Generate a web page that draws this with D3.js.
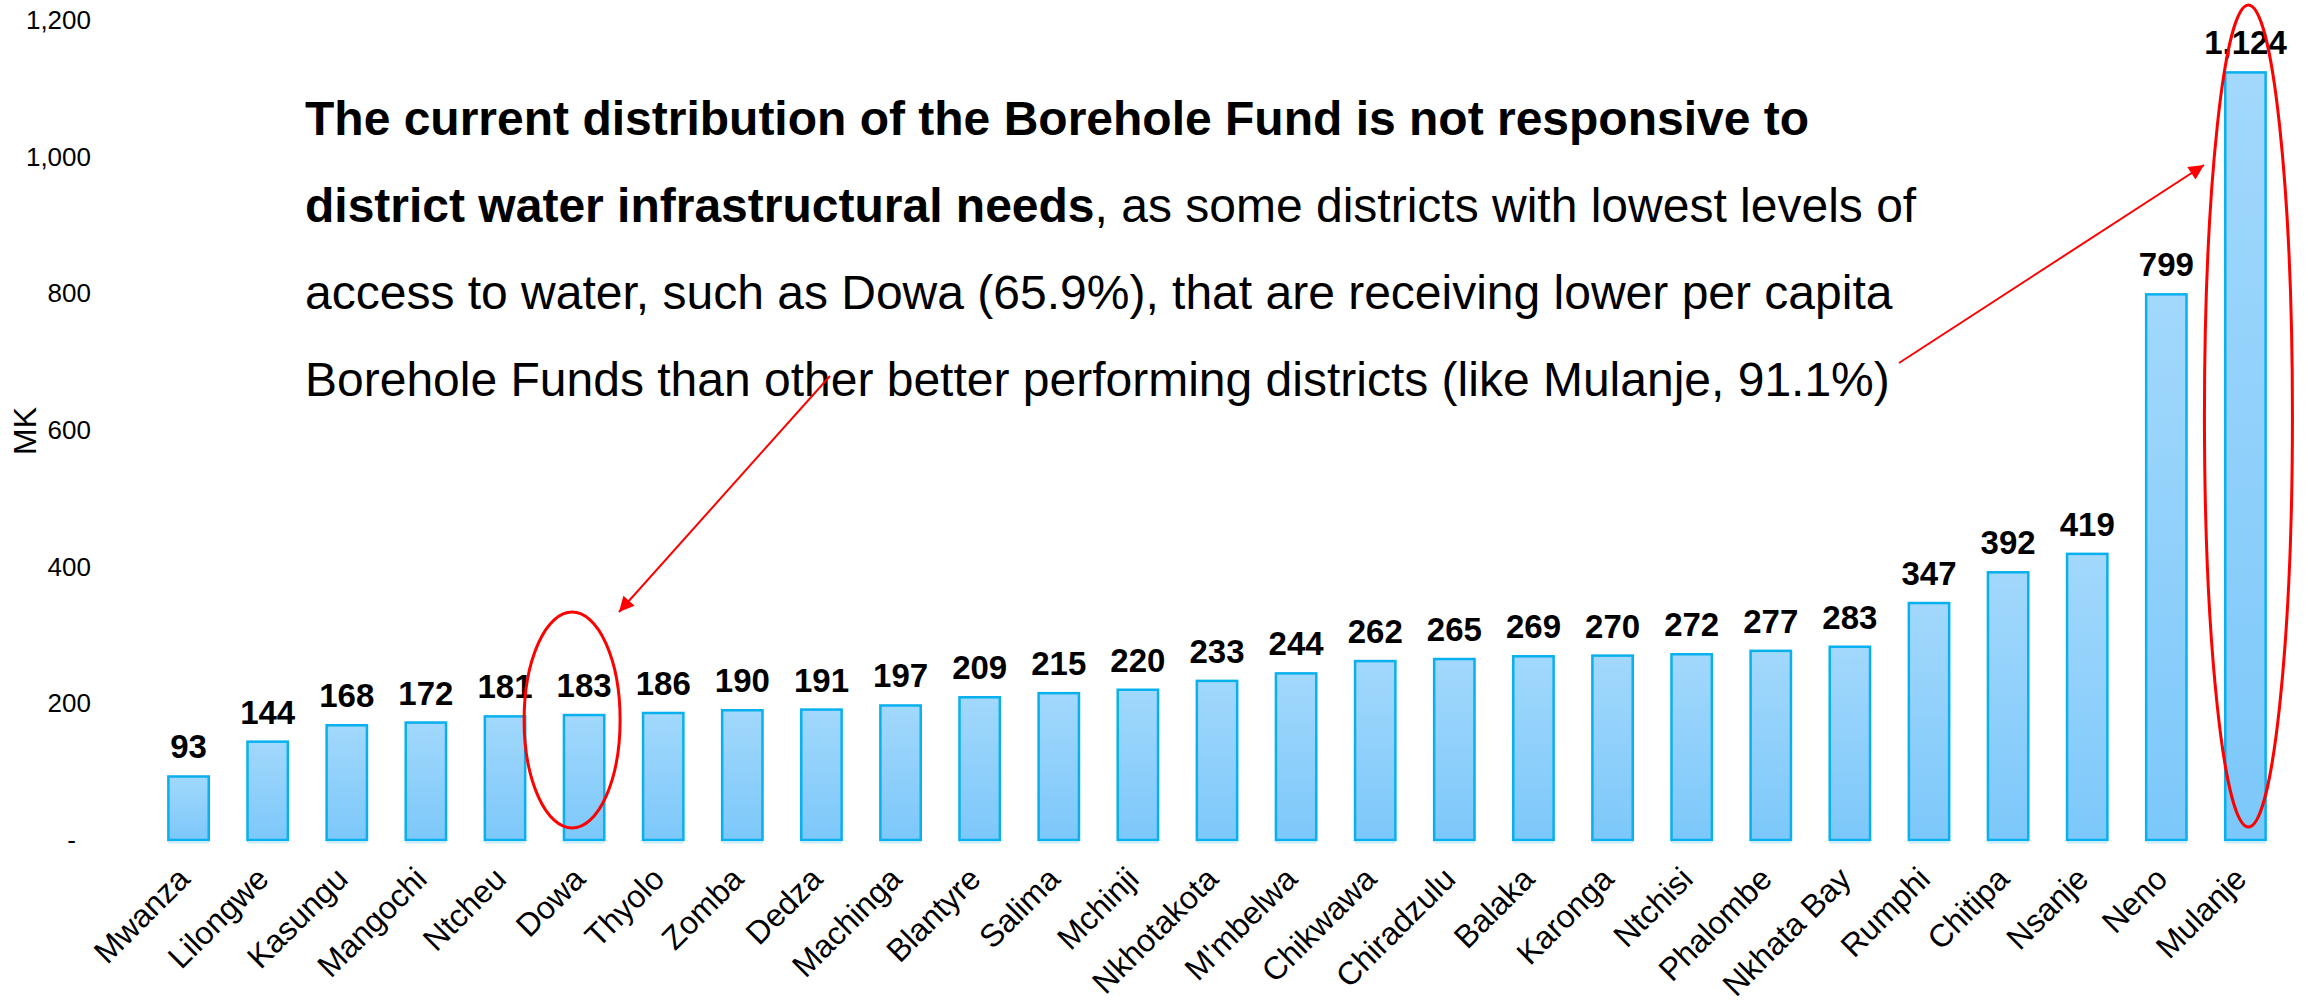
<!DOCTYPE html>
<html>
<head>
<meta charset="utf-8">
<script src="https://cdn.jsdelivr.net/npm/d3@7"></script>
<style>
  body { margin: 0; background: #fff; }
  svg { display: block; font-family: Arial, "Liberation Sans", sans-serif; }
</style>
</head>
<body>
<div id="chart"></div>
<script>
const districts = ["Mwanza", "Lilongwe", "Kasungu", "Mangochi", "Ntcheu", "Dowa", "Thyolo", "Zomba",
  "Dedza", "Machinga", "Blantyre", "Salima", "Mchinji", "Nkhotakota", "M'mbelwa", "Chikwawa",
  "Chiradzulu", "Balaka", "Karonga", "Ntchisi", "Phalombe", "Nkhata Bay", "Rumphi", "Chitipa",
  "Nsanje", "Neno", "Mulanje"];
const funds = [93, 144, 168, 172, 181, 183, 186, 190, 191, 197, 209, 215, 220, 233, 244, 262,
  265, 269, 270, 272, 277, 283, 347, 392, 419, 799, 1124];
const yTicks = [0, 200, 400, 600, 800, 1000, 1200];

const noteLines = [
  [["The current distribution of the Borehole Fund is not responsive to", true]],
  [["district water infrastructural needs", true], [", as some districts with lowest levels of", false]],
  [["access to water, such as Dowa (65.9%), that are receiving lower per capita", false]],
  [["Borehole Funds than other better performing districts (like Mulanje, 91.1%)", false]]
];

const data = districts.map((d, i) => ({ district: d, value: funds[i] }));

const width = 2308, height = 1003;
const svg = d3.select("#chart").append("svg")
  .attr("width", width)
  .attr("height", height);

const x = d3.scaleBand()
  .domain(districts)
  .range([149, 2285])
  .paddingInner(0.49)
  .paddingOuter(0.245);

const y = d3.scaleLinear()
  .domain([0, 1200])
  .range([840, 20.5]);

// bar gradient
const defs = svg.append("defs");
const grad = defs.append("linearGradient")
  .attr("id", "barFill")
  .attr("x1", 0).attr("y1", 0).attr("x2", 0).attr("y2", 1);
grad.append("stop").attr("offset", "0%").attr("stop-color", "#a2d8fc");
grad.append("stop").attr("offset", "100%").attr("stop-color", "#7cc8fa");

defs.append("marker")
  .attr("id", "arrowHead")
  .attr("viewBox", "0 0 10 10")
  .attr("refX", 10).attr("refY", 5)
  .attr("markerWidth", 22).attr("markerHeight", 15)
  .attr("markerUnits", "userSpaceOnUse")
  .attr("orient", "auto")
  .append("path")
  .attr("d", "M0,0 L10,5 L0,10 Z")
  .attr("fill", "#ff0000");

// y axis
const yAxis = svg.append("g")
  .attr("transform", "translate(100,0)")
  .call(d3.axisLeft(y).tickValues(yTicks).tickSize(0).tickPadding(9)
    .tickFormat(d => d === 0 ? "-" : d3.format(",")(d)));
yAxis.select(".domain").remove();
yAxis.selectAll("text")
  .style("font-size", "26px")
  .style("font-family", "Arial, 'Liberation Sans', sans-serif")
  .attr("fill", "#000")
  .attr("dx", d => d === 0 ? -15 : 0);

svg.append("text")
  .attr("transform", "translate(25,431) rotate(-90)")
  .attr("text-anchor", "middle")
  .attr("dy", "0.35em")
  .style("font-size", "32px")
  .text("MK");

// bars
const bars = svg.selectAll(".bar")
  .data(data)
  .join("g")
  .attr("class", "bar")
  .attr("transform", d => `translate(${x(d.district)},0)`);

bars.append("rect")
  .attr("y", d => y(d.value))
  .attr("width", x.bandwidth())
  .attr("height", d => y(0) - y(d.value))
  .attr("fill", "url(#barFill)")
  .attr("stroke", "#08b0ee")
  .attr("stroke-width", 2.5);

bars.append("line")
  .attr("x1", 0).attr("x2", x.bandwidth())
  .attr("y1", y(0) + 2.5).attr("y2", y(0) + 2.5)
  .attr("stroke", "#cdecfc")
  .attr("stroke-width", 2);

bars.append("text")
  .attr("x", x.bandwidth() / 2)
  .attr("y", d => y(d.value) - 18)
  .attr("text-anchor", "middle")
  .style("font-size", "33px")
  .style("font-weight", "bold")
  .text(d => d3.format(",")(d.value));

// category labels
svg.append("g")
  .selectAll("text")
  .data(districts)
  .join("text")
  .attr("transform", d => `translate(${x(d) + x.bandwidth() / 2 + 3},881) rotate(-45)`)
  .attr("text-anchor", "end")
  .style("font-size", "32px")
  .text(d => d);

// annotation text
const note = svg.append("text")
  .style("font-size", "48px")
  .attr("fill", "#000");
noteLines.forEach((line, i) => {
  line.forEach(([t, b], j) => {
    const ts = note.append("tspan").text(t).style("font-weight", b ? "bold" : "normal");
    if (j === 0) ts.attr("x", 305).attr("y", 135 + i * 87);
  });
});

// red highlight ellipses + arrows
const cx = d => x(d) + x.bandwidth() / 2;
svg.append("ellipse")
  .attr("cx", cx("Dowa") - 12).attr("cy", 720)
  .attr("rx", 48).attr("ry", 108)
  .attr("fill", "none").attr("stroke", "#ff0000").attr("stroke-width", 3);
svg.append("ellipse")
  .attr("cx", cx("Mulanje") + 3).attr("cy", 416)
  .attr("rx", 44).attr("ry", 411)
  .attr("fill", "none").attr("stroke", "#ff0000").attr("stroke-width", 3);

svg.append("line")
  .attr("x1", 830).attr("y1", 376)
  .attr("x2", 619).attr("y2", 612)
  .attr("stroke", "#ff0000").attr("stroke-width", 2)
  .attr("marker-end", "url(#arrowHead)");
svg.append("line")
  .attr("x1", 1899).attr("y1", 363)
  .attr("x2", 2204).attr("y2", 165)
  .attr("stroke", "#ff0000").attr("stroke-width", 2)
  .attr("marker-end", "url(#arrowHead)");
</script>
</body>
</html>
